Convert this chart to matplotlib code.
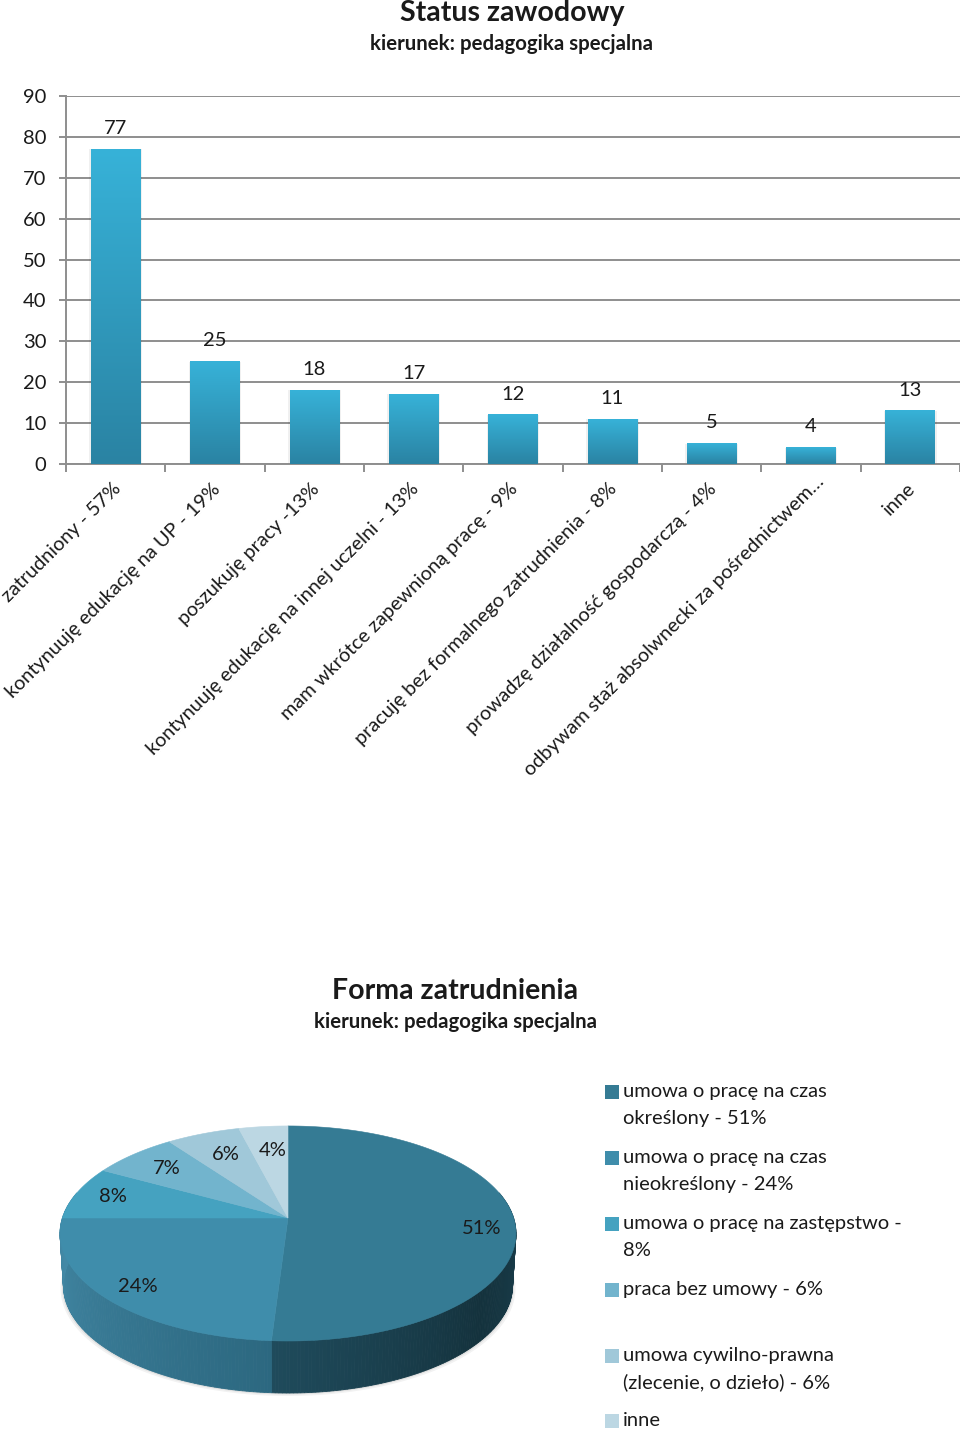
import numpy as np
import matplotlib
matplotlib.use('Agg')
import matplotlib.pyplot as plt
from matplotlib.colors import LinearSegmentedColormap, to_rgb
from matplotlib.patches import Polygon

plt.rcParams['font.family'] = ['Lato', 'DejaVu Sans']

W, H = 960, 1434
TEXT = '#1a1a1a'
GRID = '#8e8e8e'

categories = [
    'zatrudniony - 57%',
    'kontynuuję edukację na UP - 19%',
    'poszukuję pracy -13%',
    'kontynuuję edukację na innej uczelni - 13%',
    'mam wkrótce zapewnioną pracę - 9%',
    'pracuję bez formalnego zatrudnienia - 8%',
    'prowadzę działalność gospodarczą - 4%',
    'odbywam staż absolwnecki za pośrednictwem…',
    'inne',
]
counts = [77, 25, 18, 17, 12, 11, 5, 4, 13]
y_ticks = [0, 10, 20, 30, 40, 50, 60, 70, 80, 90]

pie_values = [51, 24, 8, 7, 6, 4]
pie_colors = ['#357b94', '#3f8dab', '#45a2c0', '#72b4cd', '#a0c8d9', '#bcd7e3']
legend_lines = [
    ['umowa o pracę na czas', 'określony - 51%'],
    ['umowa o pracę na czas', 'nieokreślony - 24%'],
    ['umowa o pracę na zastępstwo -', '8%'],
    ['praca bez umowy - 6%'],
    ['umowa cywilno-prawna', '(zlecenie, o dzieło) - 6%'],
    ['inne'],
]


def add_axes_px(fig, left, top, right, bottom):
    '''Axes placed by pixel box, y counted from the top'''
    return fig.add_axes([left / W, 1 - bottom / H, (right - left) / W, (bottom - top) / H])


def plot_bars(ax):
    '''Column chart with a vertical gradient on every bar'''
    cmap = LinearSegmentedColormap.from_list('bar', ['#2a83a3', '#37b2d8'])
    grad = np.linspace(0, 1, 128).reshape(-1, 1)
    width = 0.5

    ax.set_axisbelow(True)
    ax.grid(axis='y', color=GRID, linewidth=1.4)
    for i, val in enumerate(counts):
        ax.bar(i, val, width=width + 0.03, color='#000000', alpha=0.06, zorder=2)
        ax.imshow(grad, cmap=cmap, origin='lower', aspect='auto', zorder=3,
                  extent=(i - width / 2, i + width / 2, 0, val))
        ax.annotate(str(val), (i, val), xytext=(0, 15), textcoords='offset points',
                    ha='center', va='center', fontsize=14.5, color=TEXT, zorder=4)

    ax.set_xlim(-0.5, len(counts) - 0.5)
    ax.set_ylim(0, 90)
    ax.set_yticks(y_ticks)
    ax.set_xticks(np.arange(len(counts) + 1) - 0.5)
    ax.set_xticklabels([])
    ax.tick_params(axis='y', length=5, width=1.4, color=GRID, labelsize=14.5,
                   labelcolor=TEXT, pad=9)
    ax.tick_params(axis='x', length=6, width=1.4, color=GRID)
    for side in ['top', 'right']:
        ax.spines[side].set_visible(False)
    for side in ['left', 'bottom']:
        ax.spines[side].set_color(GRID)
        ax.spines[side].set_linewidth(1.4)

    for i, name in enumerate(categories):
        # the cut label runs a bit further up in the original
        shift = 5.5 if name.endswith('…') else 0
        ax.annotate(name, (i, 0), xytext=(-2.8 + shift, -11.5 + shift), textcoords='offset points',
                    rotation=45, rotation_mode='anchor', ha='right', va='top',
                    fontsize=14.3, color=TEXT, annotation_clip=False)


def project(t, cx=288, apex=1218, a=225.6, b=105.3, k=0.144):
    '''Clockwise pie angle from the top to pixels, with a little perspective'''
    u, v = np.sin(t), np.cos(t)
    den = 1 + k * v
    return cx + a * u / den, apex - b * v / den


def plot_pie(ax):
    '''Pie with a fake 3D rim, built from the slice values'''
    depth = 52
    squeeze = 0.985
    ends = np.cumsum(pie_values) / np.sum(pie_values) * 2 * np.pi
    starts = np.r_[0, ends[:-1]]
    cx = 288

    def rim(t):
        x, y = project(t)
        return cx + (x - cx) * squeeze, y + depth

    # soft shadow under the rim
    ts = np.linspace(0, 2 * np.pi, 240)
    for grow, alpha in [(3, 0.05), (1.5, 0.07)]:
        x, y = rim(ts)
        ax.fill(cx + (x - cx) * (1 + grow / 230), y + grow, color='black', alpha=alpha, lw=0, zorder=1)

    # rim strips, colour follows the position along the front edge
    stops_c = [to_rgb('#1a3f4d'), to_rgb('#1f4b5c'), to_rgb('#2c6880'), to_rgb('#4389a6')]
    dark_t = np.pi * 0.72
    strip_t = np.linspace(np.pi / 2 - 0.25, 3 * np.pi / 2 + 0.25, 260)
    for t0, t1 in zip(strip_t[:-1], strip_t[1:]):
        tm = (t0 + t1) / 2
        if tm < ends[0]:
            if tm < dark_t:
                f = np.clip((tm - np.pi / 2) / (dark_t - np.pi / 2), 0, 1)
                col = (1 - f) * np.array(stops_c[0]) + f * np.array(to_rgb('#14323d'))
            else:
                f = (tm - dark_t) / (ends[0] - dark_t)
                col = (1 - f) * np.array(to_rgb('#14323d')) + f * np.array(stops_c[1])
        else:
            f = np.clip((tm - ends[0]) / (3 * np.pi / 2 - ends[0]), 0, 1)
            col = (1 - f) * np.array(stops_c[2]) + f * np.array(stops_c[3])
        x0, y0 = project(t0)
        x1, y1 = project(t1)
        bx0, by0 = rim(t0)
        bx1, by1 = rim(t1)
        ax.add_patch(Polygon([(x0, y0), (x1, y1), (bx1, by1), (bx0, by0)], closed=True,
                             facecolor=col, edgecolor=col, linewidth=0.6, zorder=2))

    # top face
    for s, e, col in zip(starts, ends, pie_colors):
        t = np.linspace(s, e, 120)
        x, y = project(t)
        pts = np.column_stack([np.r_[cx, x], np.r_[1218, y]])
        ax.add_patch(Polygon(pts, closed=True, facecolor=col, edgecolor=col, linewidth=0.4, zorder=3))

    label_pos = [(482, 1228), (138, 1287), (113, 1197), (167, 1169), (226, 1155), (273, 1151)]
    for val, (x, y) in zip(pie_values, label_pos):
        ax.text(x, y, f'{val}%', ha='center', va='center', fontsize=14.5, color=TEXT, zorder=4)


def plot_legend(ax):
    '''Legend by hand, as the entries wrap on two lines'''
    rows = [1092, 1158, 1224, 1290, 1356, 1421]
    for lines, col, y in zip(legend_lines, pie_colors, rows):
        ax.scatter([611.5], [y], marker='s', s=90, color=col, linewidths=0, zorder=3)
        for j, line in enumerate(lines):
            ax.text(623, y + j * 26.5, line, ha='left', va='center', fontsize=14.5, color=TEXT)


def main():
    fig = plt.figure(figsize=(W / 100, H / 100), dpi=100, facecolor='white')

    ax = add_axes_px(fig, 66, 96, 960, 464)
    plot_bars(ax)

    over = add_axes_px(fig, 0, 0, W, H)
    over.set_xlim(0, W)
    over.set_ylim(H, 0)
    over.axis('off')
    over.patch.set_alpha(0)

    over.text(512, 13, 'Status zawodowy', ha='center', va='center', fontsize=20.5, fontweight='bold', color=TEXT)
    over.text(512, 44, 'kierunek: pedagogika specjalna', ha='center', va='center', fontsize=14.7, fontweight='bold', color=TEXT)
    over.text(455, 991, 'Forma zatrudnienia', ha='center', va='center', fontsize=20.5, fontweight='bold', color=TEXT)
    over.text(455, 1022, 'kierunek: pedagogika specjalna', ha='center', va='center', fontsize=14.7, fontweight='bold', color=TEXT)

    plot_pie(over)
    plot_legend(over)

    fig.savefig('out.png', dpi=100)


if __name__ == '__main__':
    main()
